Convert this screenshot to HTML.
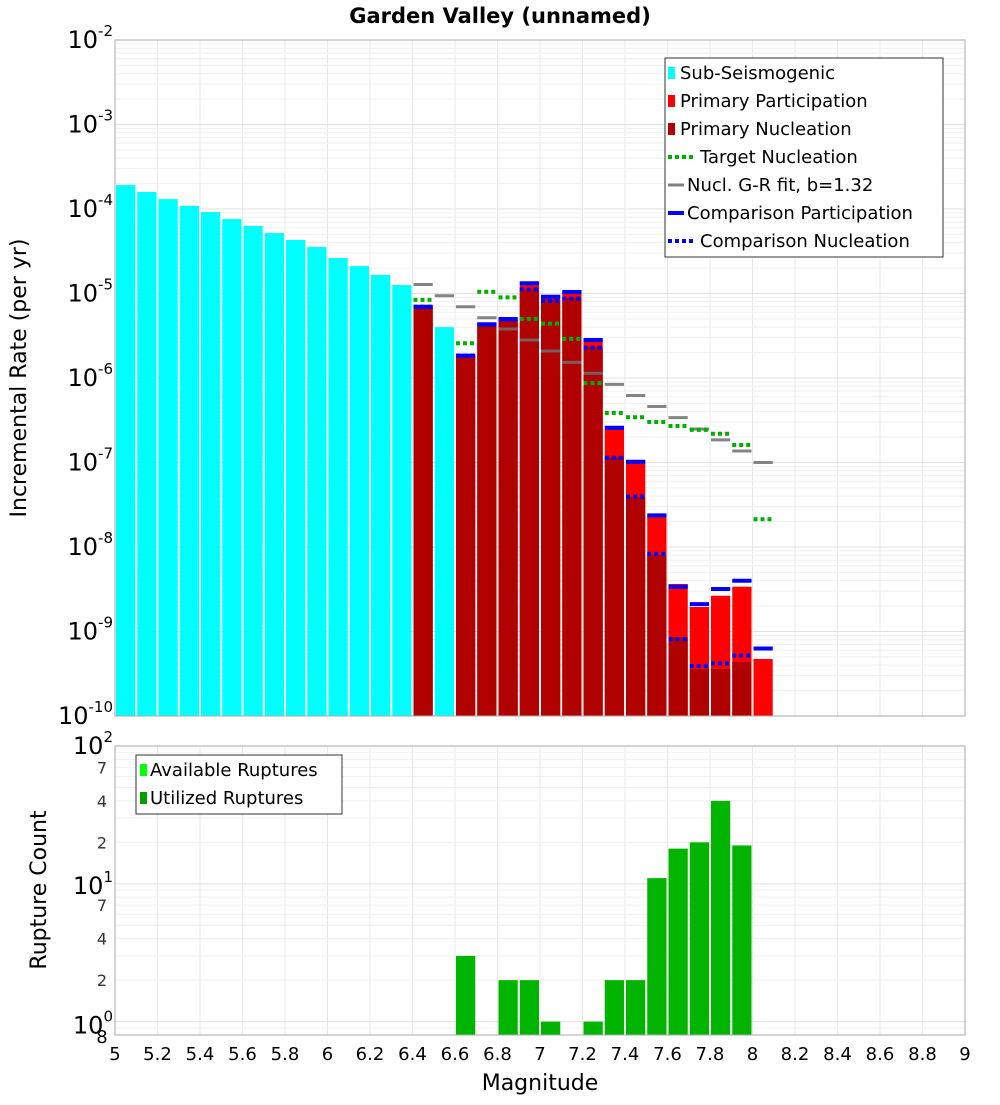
<!DOCTYPE html>
<html><head><meta charset="utf-8"><style>
body{margin:0;background:#fff;}
svg text{font-family:"DejaVu Sans","Liberation Sans",sans-serif;}
</style></head><body>
<svg id="c" width="1000" height="1100" xmlns="http://www.w3.org/2000/svg"></svg>
<script>
const cyanMags=[5.05,5.15,5.25,5.35,5.45,5.55,5.65,5.75,5.85,5.95,6.05,6.15,6.25,6.35,6.55];
const cyanVals=[1.92e-4,1.59e-4,1.31e-4,1.09e-4,9.2e-5,7.6e-5,6.3e-5,5.2e-5,4.3e-5,3.55e-5,2.63e-5,2.11e-5,1.66e-5,1.26e-5,4.0e-6];
const mags=[6.45,6.55,6.65,6.75,6.85,6.95,7.05,7.15,7.25,7.35,7.45,7.55,7.65,7.75,7.85,7.95,8.05];
const partVals=[6.98e-6,null,1.84e-6,4.24e-6,4.86e-6,1.30e-5,9.0e-6,1.02e-5,2.72e-6,2.49e-7,1.02e-7,2.34e-8,3.65e-9,1.95e-9,2.65e-9,3.39e-9,4.73e-10];
const nuclVals=[6.98e-6,null,1.84e-6,4.24e-6,4.86e-6,1.12e-5,8.5e-6,8.85e-6,2.31e-6,1.17e-7,3.9e-8,8.0e-9,8.6e-10,3.6e-10,3.6e-10,4.36e-10,null];
const grVals=[1.28e-5,9.42e-6,6.98e-6,5.17e-6,3.80e-6,2.82e-6,2.09e-6,1.53e-6,1.14e-6,8.4e-7,6.2e-7,4.6e-7,3.4e-7,2.49e-7,1.85e-7,1.37e-7,1.0e-7];
const targetVals=[8.4e-6,null,2.58e-6,1.05e-5,9.0e-6,5.0e-6,4.4e-6,2.9e-6,8.7e-7,3.85e-7,3.43e-7,3.01e-7,2.70e-7,2.43e-7,2.19e-7,1.61e-7,2.13e-8];
const compPartVals=[6.98e-6,null,1.84e-6,4.32e-6,4.99e-6,1.32e-5,9.16e-6,1.04e-5,2.82e-6,2.58e-7,1.02e-7,2.37e-8,3.39e-9,2.11e-9,3.18e-9,3.99e-9,6.3e-10];
const compNuclVals=[6.98e-6,null,1.84e-6,4.3e-6,4.9e-6,1.12e-5,8.15e-6,8.7e-6,2.29e-6,1.14e-7,3.94e-8,8.3e-9,8.1e-10,3.9e-10,4.2e-10,5.2e-10,null];
const countMags=[6.65,6.85,6.95,7.05,7.25,7.35,7.45,7.55,7.65,7.75,7.85,7.95];
const countVals=[3,2,2,1,1,2,2,11,18,20,40,19];
const xTicks=["5","5.2","5.4","5.6","5.8","6","6.2","6.4","6.6","6.8","7","7.2","7.4","7.6","7.8","8","8.2","8.4","8.6","8.8","9"];

const NS="http://www.w3.org/2000/svg";
const svg=document.getElementById('c');
function el(t,a,p){const e=document.createElementNS(NS,t);for(const k in a)e.setAttribute(k,a[k]);(p||svg).appendChild(e);return e;}
const X0=115,X1=965;
const xs=m=>X0+(m-5)/4*(X1-X0);
const T0=40,T1=716;
const yTop=v=>T0+(-2-Math.log10(v))/8*(T1-T0);
const B0=746,B1=1035,bMin=Math.log10(0.8);
const yBot=v=>B0+(2-Math.log10(v))/(2-bMin)*(B1-B0);
const bw=xs(0.1)-xs(0);

// frames & grid
function grid(top,bot,yf,decs){
  const g=el('g',{});
  
  for(let i=0;i<=20;i++){const x=xs(5+i*0.2);el('line',{x1:x,x2:x,y1:top,y2:bot,stroke:'#e8e8e8','stroke-width':1},g);}
  decs.forEach(d=>{for(let k=1;k<10;k++){const y=yf(k*Math.pow(10,d));if(y>=top&&y<=bot)el('line',{x1:X0,x2:X1,y1:y,y2:y,stroke:k==1?'#e0e0e0':'#efefef','stroke-width':1},g);}});
}
grid(T0,T1,yTop,[-10,-9,-8,-7,-6,-5,-4,-3,-2]);
grid(B0,B1,yBot,[-1,0,1,2]);

// top bars
function bar(m,v,fill,yf,base,name){const x=xs(m)-bw/2+1,y=yf(v);const r=el('rect',{x:x,y:y,width:bw-2,height:base-y,fill:fill});}
cyanMags.forEach((m,i)=>bar(m,cyanVals[i],'#00ffff',yTop,T1,'sub-seismogenic-bar'));
mags.forEach((m,i)=>{if(partVals[i]!=null)bar(m,partVals[i],'#ff0000',yTop,T1,'participation-bar');});
mags.forEach((m,i)=>{if(nuclVals[i]!=null)bar(m,nuclVals[i],'#b00000',yTop,T1,'nucleation-bar');});
function seg(m,v,col,w,dash,name){if(v==null)return;const y=yTop(v);if(y>T1)return;const a={x1:xs(m)-bw/2+1,x2:xs(m)+bw/2-1,y1:y,y2:y,stroke:col,'stroke-width':w};if(dash)a['stroke-dasharray']=dash;const l=el('line',a);}
mags.forEach((m,i)=>seg(m,grVals[i],'rgba(110,110,110,0.85)',3,null,'gr-fit-segment'));
mags.forEach((m,i)=>seg(m,targetVals[i],'#00b000',4,'4,3','target-nucleation-segment'));
mags.forEach((m,i)=>seg(m,compPartVals[i],'#0000ff',4,null,'comparison-participation-segment'));
mags.forEach((m,i)=>seg(m,compNuclVals[i],'#0000ff',4,'4,3','comparison-nucleation-segment'));
countMags.forEach((m,i)=>bar(m,countVals[i],'#00b400',yBot,B1,'rupture-count-bar'));

el('rect',{x:X0,y:T0,width:X1-X0,height:T1-T0,fill:'none',stroke:'#aaa'});
el('rect',{x:X0,y:B0,width:X1-X0,height:B1-B0,fill:'none',stroke:'#aaa'});

function txt(x,y,s,a,name){const t=el('text',Object.assign({x:x,y:y},a));t.textContent=s;return t;}
function pow(x,y,e,name,size){const t=el('text',{x:x,y:y,'font-size':size||24,'text-anchor':'end',fill:'#000'});
 const a=el('tspan',{},t);a.textContent='10';const b=el('tspan',{dy:-12,'font-size':15},t);b.textContent=e;}
// top y ticks
for(let d=-2;d>=-10;d--){pow(113-(d==-10?0:0)+ (String(d).length>2?0:0),yTop(Math.pow(10,d))+8,String(d),'y-tick-label');}
// bottom ticks
pow(113,B0+8,'2','y2-tick-label');pow(113,yBot(10)+10,'1','y2-tick-label');pow(113,yBot(1)+12,'0','y2-tick-label');
txt(102,1043,'8',{'font-size':18,'text-anchor':'middle'},'y2-tick-label');
[7,4,2,0.7,0.4,0.2].forEach((v,i)=>{const val=[70,40,20,7,4,2][i];txt(107,yBot(val)+6,String([7,4,2,7,4,2][i]),{'font-size':16,'text-anchor':'end',fill:'#333'},'y2-minor-tick-label');});
xTicks.forEach(s=>txt(xs(parseFloat(s)),1060,s,{'font-size':18,'text-anchor':'middle'},'x-tick-label'));

txt(500,23,'Garden Valley (unnamed)',{'font-size':21,'font-weight':'bold','text-anchor':'middle'},'chart-title');
txt(540,1090,'Magnitude',{'font-size':22,'text-anchor':'middle'},'x-axis-title');
txt(0,0,'Incremental Rate (per yr)',{'font-size':22,'text-anchor':'middle',transform:'translate(26,378) rotate(-90)'},'y-axis-title');
txt(0,0,'Rupture Count',{'font-size':22,'text-anchor':'middle',transform:'translate(46,890) rotate(-90)'},'y2-axis-title');

// legends
const lg=el('g',{});
el('rect',{x:665,y:58,width:278,height:199,fill:'#fff',stroke:'#333'},lg);
const items=[['Sub-Seismogenic','rect','#00ffff'],['Primary Participation','rect','#ff0000'],['Primary Nucleation','rect','#b00000'],['Target Nucleation','dot','#00b000'],['Nucl. G-R fit, b=1.32','line','#808080'],['Comparison Participation','line','#0000ff'],['Comparison Nucleation','dot','#0000ff']];
items.forEach((it,i)=>{const y=73+i*28;
 if(it[1]=='rect')el('rect',{x:668,y:y-6,width:7,height:12,fill:it[2]},lg);
 else el('line',{x1:668,x2:it[1]=='dot'?694:684,y1:y,y2:y,stroke:it[2],'stroke-width':it[2]=='#808080'?3:4,'stroke-dasharray':it[1]=='dot'?'4,3':'none'},lg);
 const t=el('text',{x:it[1]=='dot'?700:(it[1]=='line'?687:680),y:y+6,'font-size':18},lg);t.textContent=it[0];
 });
const lg2=el('g',{});
el('rect',{x:136,y:755,width:206,height:59,fill:'#fff',stroke:'#333'},lg2);
[['Available Ruptures','#00ff00'],['Utilized Ruptures','#00a000']].forEach((it,i)=>{const y=770+i*28;
 el('rect',{x:140,y:y-6,width:7,height:12,fill:it[1]},lg2);
 const t=el('text',{x:150,y:y+6,'font-size':18},lg2);t.textContent=it[0];
 });
</script>
</body></html>
